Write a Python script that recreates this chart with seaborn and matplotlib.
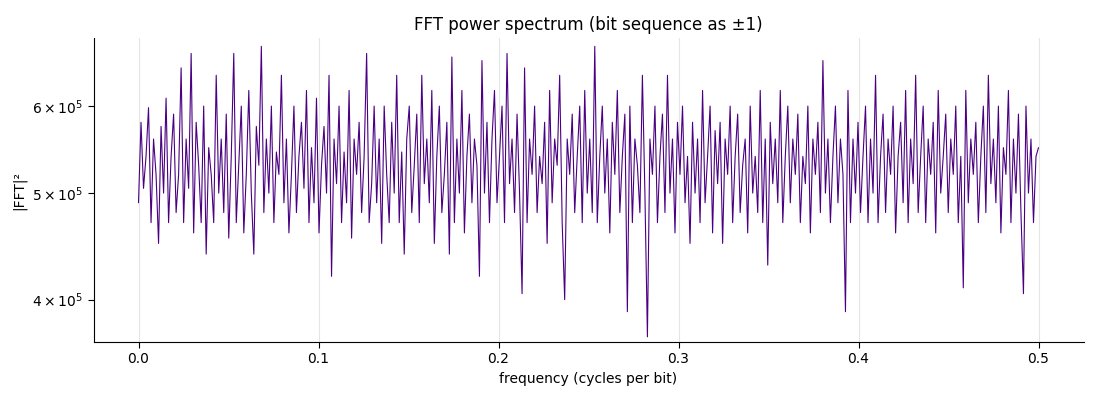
import numpy as np
import matplotlib
matplotlib.use("Agg")
import matplotlib.pyplot as plt
import seaborn as sns
from matplotlib.ticker import LogLocator, LogFormatterSciNotation, NullFormatter

# power values in thousands
power_k = [
 490,580,505,540,598,470,560,520,450,575,500,610,470,540,590,480,520,650,470,560,
 505,670,460,580,530,470,600,440,550,520,470,640,500,560,480,590,455,540,670,470,
 530,600,460,520,620,500,440,575,530,680,480,560,500,600,470,545,520,640,490,560,
 460,520,600,480,540,580,505,620,470,550,490,610,460,530,575,500,640,420,560,510,
 600,470,545,490,620,455,560,520,580,480,540,670,470,510,600,490,560,450,600,520,
 470,580,500,640,470,545,440,560,600,480,530,590,470,640,510,560,490,620,450,540,
 600,480,520,580,440,665,470,560,500,620,460,540,590,490,560,530,420,660,500,580,
 470,560,620,490,540,600,470,670,510,560,480,590,500,405,650,470,560,520,600,480,
 540,510,580,450,620,490,560,530,640,470,400,560,520,590,480,540,600,470,620,500,
 560,480,680,470,540,600,500,560,460,580,520,620,480,540,590,390,600,470,560,530,
 480,640,500,370,560,520,600,470,540,590,480,640,500,560,460,580,520,600,490,540,
 450,580,500,560,470,620,490,540,600,460,570,510,580,450,560,520,600,470,540,590,
 480,530,560,460,600,500,540,480,620,470,560,430,580,510,560,490,620,470,540,600,
 490,560,520,590,470,540,510,600,460,560,520,580,480,660,500,560,470,540,600,490,
 560,520,390,620,470,560,500,580,480,540,600,470,560,500,640,470,540,590,480,560,
 520,600,460,540,580,490,620,470,560,510,640,480,540,600,470,560,520,580,460,620,
 500,540,590,480,560,520,600,470,540,410,620,490,560,520,580,470,540,600,480,640,
 510,560,490,600,460,550,520,620,470,560,500,590,480,405,600,500,560,470,540,550
]
power = np.array(power_k) * 1000.0
freq = np.linspace(0, 0.5, len(power))

sns.set_style("ticks")
plt.rcParams['font.family'] = ['DejaVu Sans']
plt.rcParams['text.color'] = 'black'
plt.rcParams['axes.labelcolor'] = 'black'
plt.rcParams['xtick.color'] = 'black'
plt.rcParams['ytick.color'] = 'black'
fig, ax = plt.subplots(figsize=(11, 4), dpi=100)
sns.lineplot(x=freq, y=power, ax=ax, color="#4b0082", linewidth=0.8)
ax.set_yscale("log")
ax.set_ylim(366000, 692000)
ax.set_xlim(-0.025, 0.525)
ax.yaxis.set_major_locator(LogLocator(base=10, subs=(4, 5, 6)))
ax.yaxis.set_major_formatter(LogFormatterSciNotation(base=10, labelOnlyBase=False))
ax.yaxis.set_minor_formatter(NullFormatter())
ax.yaxis.set_minor_locator(LogLocator(base=10, subs=()))
ax.set_xticks([0.0, 0.1, 0.2, 0.3, 0.4, 0.5])
ax.grid(axis="x", color="#e5e5e5", linewidth=0.8)
ax.tick_params(axis="both", which="major", length=4, labelsize=10)
for s in ["top", "right"]:
    ax.spines[s].set_visible(False)
for s in ["left", "bottom"]:
    ax.spines[s].set_color("black")
    ax.spines[s].set_linewidth(0.8)
ax.set_xlabel("frequency (cycles per bit)", fontsize=10)
ax.set_ylabel("|FFT|²", fontsize=10)
ax.set_title("FFT power spectrum (bit sequence as ±1)", fontsize=12)
fig.subplots_adjust(left=0.085, right=0.985, top=0.905, bottom=0.145)
fig.savefig("out.png")
